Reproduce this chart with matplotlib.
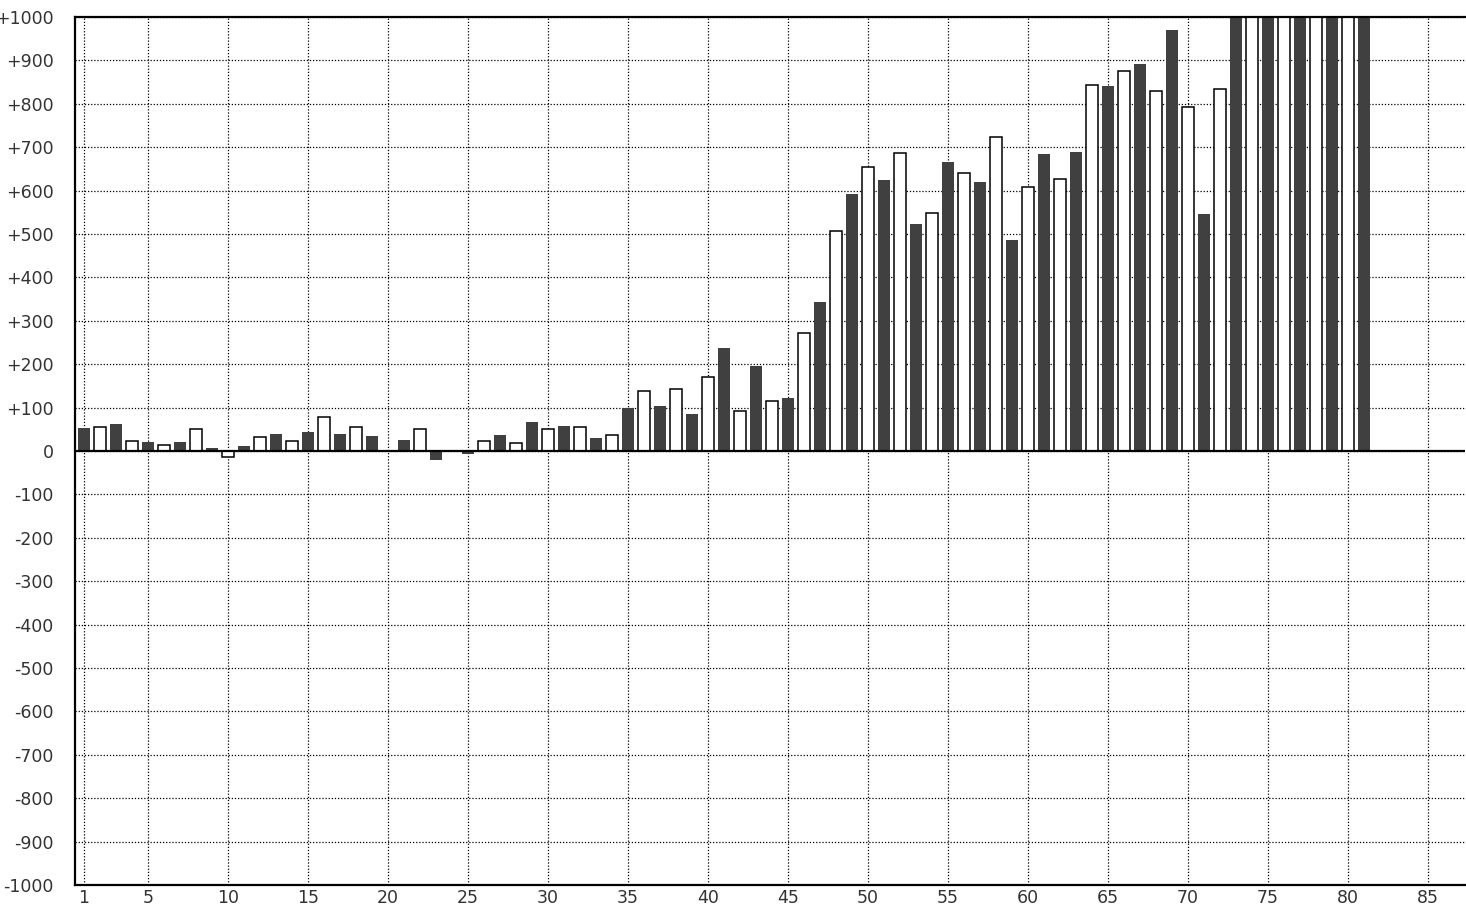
import matplotlib
matplotlib.use("Agg")
import matplotlib.pyplot as plt

# Data: bar index 1..81
positions = list(range(1, 82))
values = [53, 56, 62, 24, 20, 14, 20, 51, 6, -14,
          11, 33, 39, 24, 43, 79, 39, 56, 34, 0,
          25, 51, -21, 0, -6, 22, 38, 18, 66, 51,
          57, 56, 30, 38, 99, 139, 104, 144, 85, 171,
          237, 93, 196, 116, 122, 272, 343, 507, 592, 655,
          624, 687, 523, 549, 666, 641, 620, 723, 486, 609,
          684, 627, 689, 843, 841, 876, 892, 830, 970, 793,
          546, 835, 1000, 1000, 1000, 1000, 1000, 1000, 1000, 1000,
          1000]
x_ticks = [1, 5, 10, 15, 20, 25, 30, 35, 40, 45, 50, 55, 60, 65, 70, 75, 80, 85]
y_ticks = list(range(-1000, 1001, 100))
y_labels = [("+%d" % v if v > 0 else ("0" if v == 0 else "-%d" % (-v))) for v in y_ticks]

W, H = 1466, 908
fig = plt.figure(figsize=(W / 100, H / 100), dpi=100)
ax = fig.add_axes([75 / W, 1 - 885 / H, (1465 - 75) / W, (885 - 17) / H])

dark_x = [p for p in positions if p % 2 == 1]
dark_v = [v for p, v in zip(positions, values) if p % 2 == 1]
white_x = [p for p in positions if p % 2 == 0]
white_v = [v for p, v in zip(positions, values) if p % 2 == 0]

ax.bar(dark_x, dark_v, width=0.75, color="#404040", edgecolor="none", zorder=2)
ax.bar(white_x, white_v, width=0.75, color="white", edgecolor="black",
       linewidth=1.1, zorder=2)

ax.axhline(0, color="black", linewidth=1.6, zorder=3)

ax.set_xlim(0.4375, 87.31)
ax.set_ylim(-1000, 1000)
ax.set_xticks(x_ticks)
ax.set_xticklabels([str(t) for t in x_ticks])
ax.set_yticks(y_ticks)
ax.set_yticklabels(y_labels)

ax.set_axisbelow(True)
ax.grid(True, color="black", linestyle=(0, (1, 1.5)), linewidth=0.9)

for s in ax.spines.values():
    s.set_linewidth(1.6)
    s.set_color("black")
ax.spines["right"].set_visible(False)

ax.tick_params(axis="both", length=0, labelsize=12.5, labelcolor="#333333")
ax.tick_params(axis="y", pad=15.5)
ax.tick_params(axis="x", pad=3)

fig.savefig("out.png", dpi=100)
